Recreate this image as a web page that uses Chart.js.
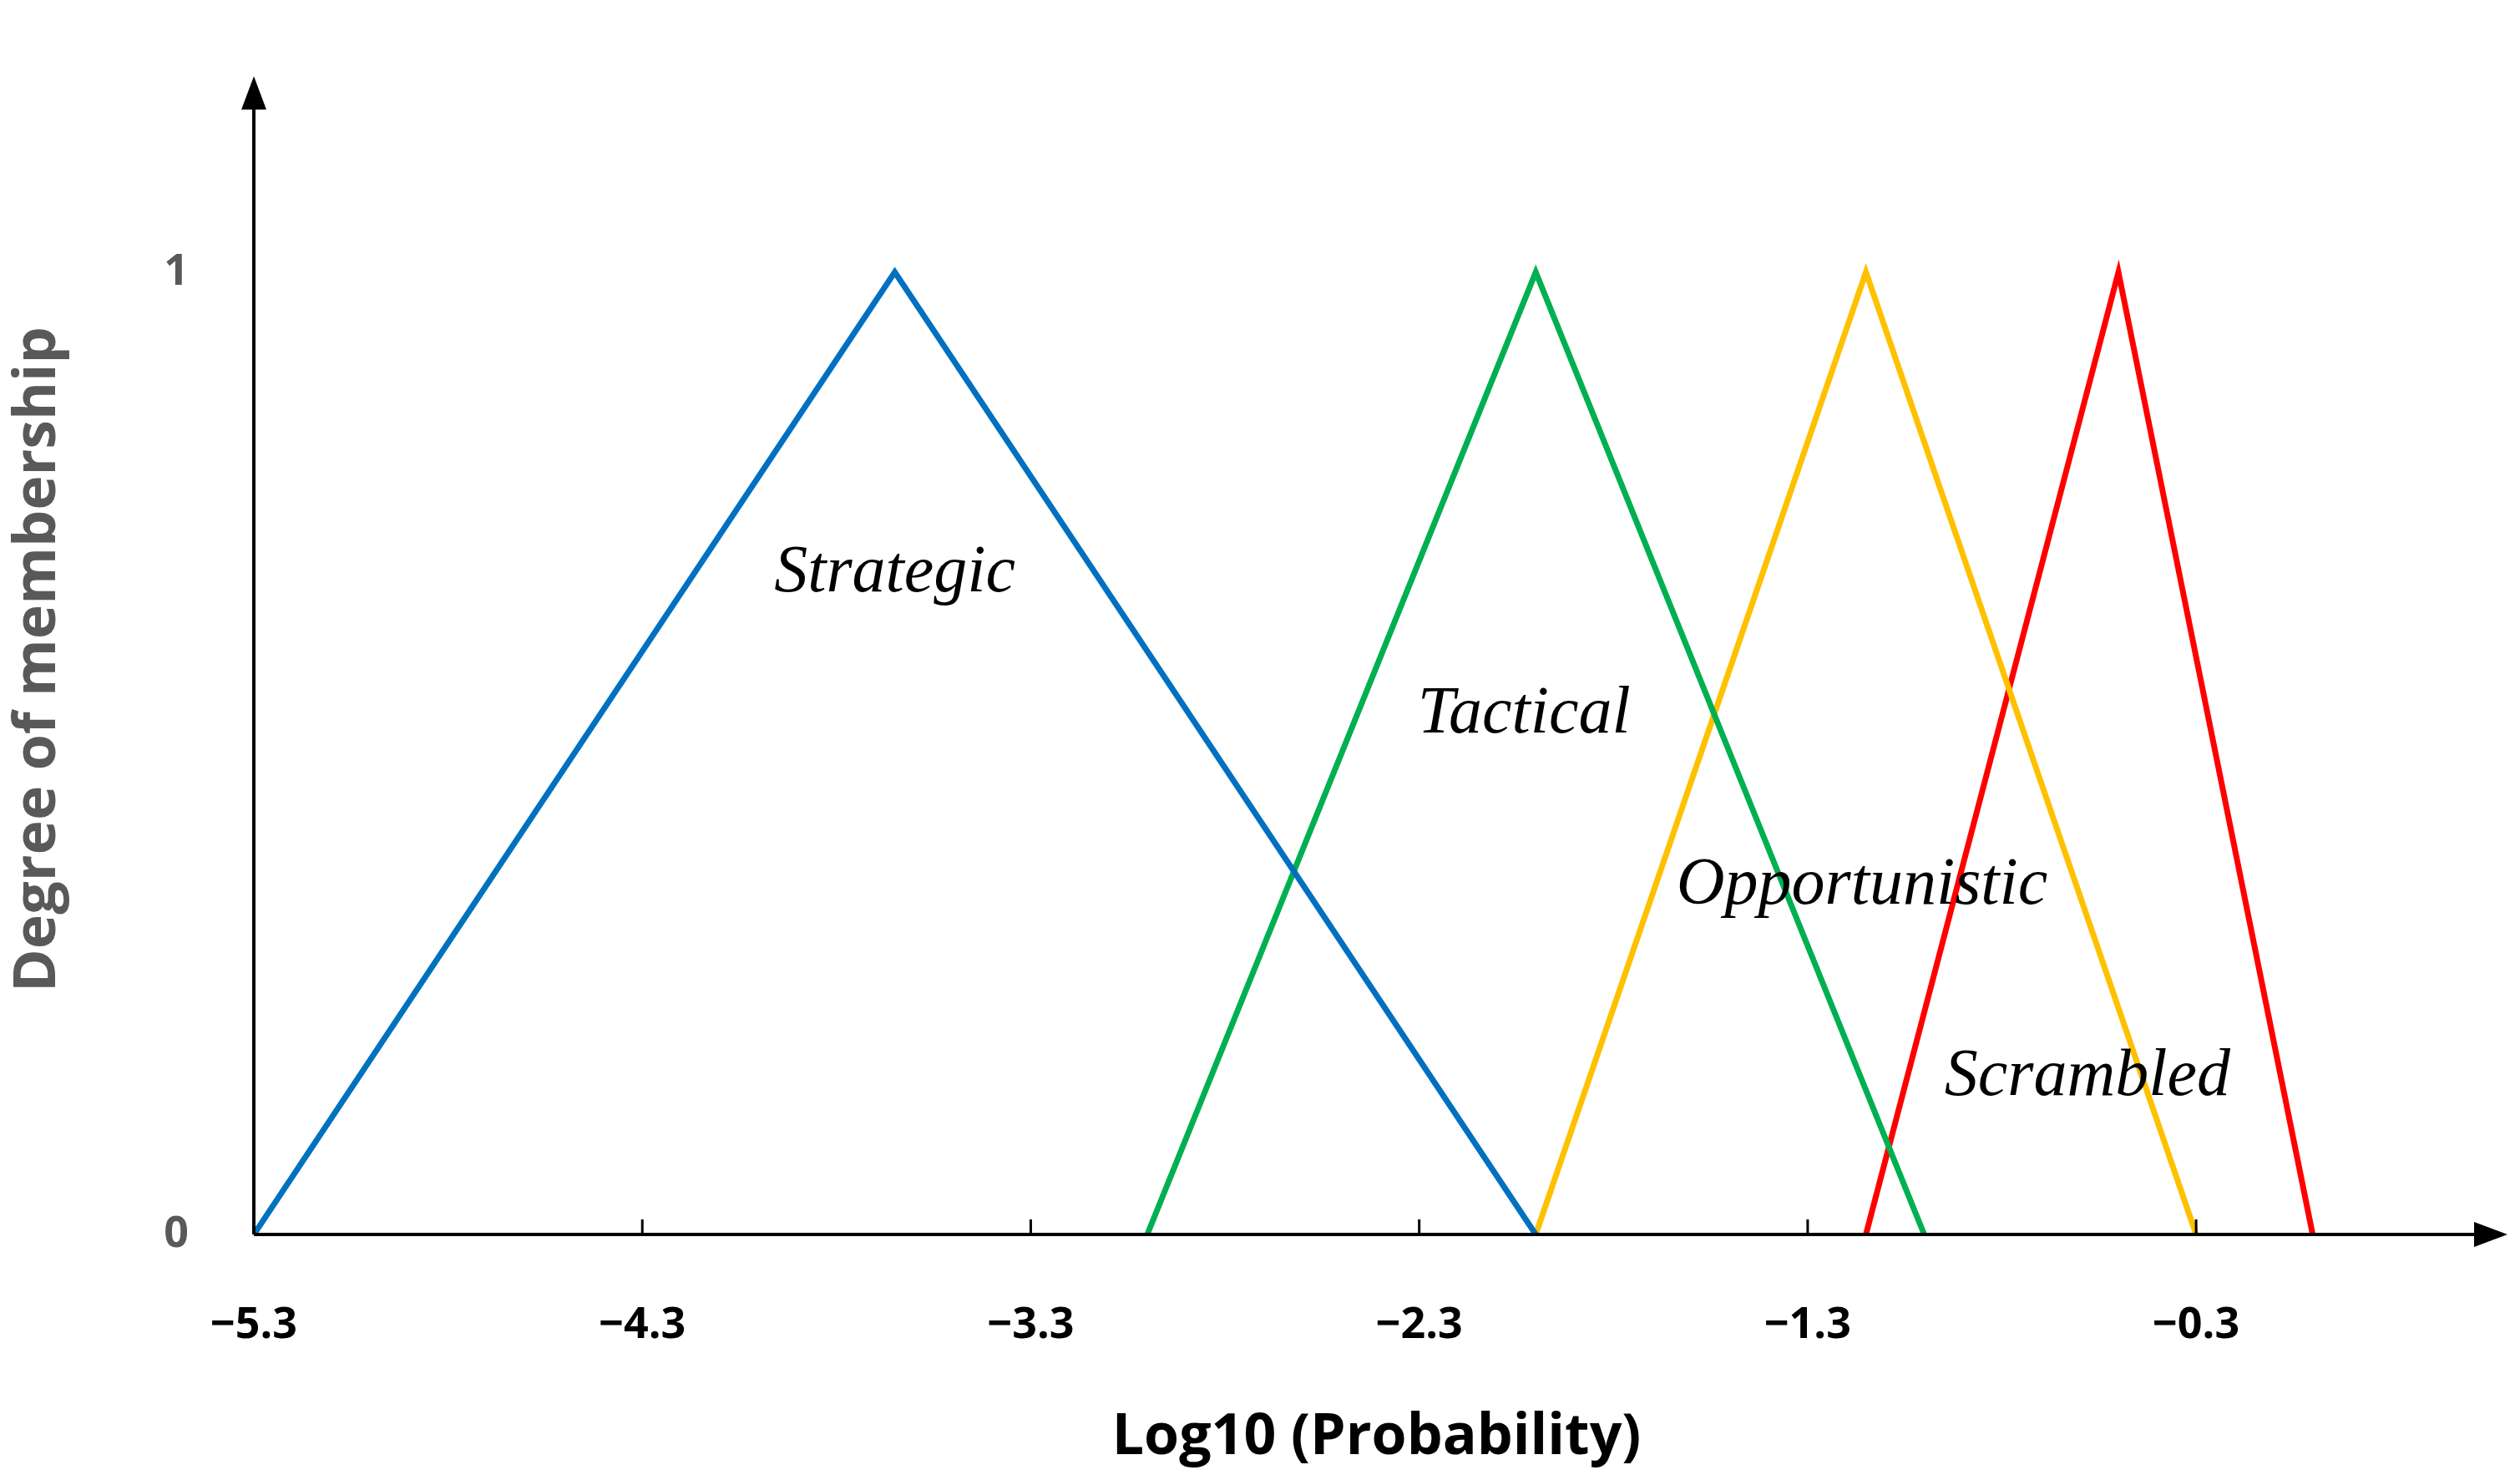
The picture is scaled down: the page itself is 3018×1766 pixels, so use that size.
<!DOCTYPE html>
<html>
<head>
<meta charset="utf-8">
<script src="https://cdn.jsdelivr.net/npm/chart.js@4"></script>
<style>
  html, body { margin: 0; padding: 0; background: #fff; }
  #wrap { width: 3018px; height: 1766px; }
</style>
</head>
<body>
<div id="wrap"><canvas id="fuzzyChart"></canvas></div>
<script>
// ===== DATA =====
const setNames = ["Strategic", "Tactical", "Opportunistic", "Scrambled"];
const setColors = ["#0070C0", "#00B050", "#FFC000", "#FF0000"];
const strategicX = [-5.3, -3.65, -2.0];
const tacticalX = [-3.0, -2.0, -1.0];
const opportunisticX = [-2.0, -1.15, -0.3];
const scrambledX = [-1.15, -0.5, 0.0];
const membershipY = [0, 1, 0];
const xTicks = [-5.3, -4.3, -3.3, -2.3, -1.3, -0.3];
const yTicks = [0, 1];
// label anchor points (x, y) in data units
const labelX = [-3.65, -2.03, -1.16, -0.58];
const labelY = [0.687, 0.54, 0.362, 0.163];

const allX = [strategicX, tacticalX, opportunisticX, scrambledX];

const datasets = setNames.map((name, i) => ({
    label: name,
    data: allX[i].map((x, j) => ({ x: x, y: membershipY[j] })),
    borderColor: setColors[i],
    borderWidth: 7,
    showLine: true,
    pointRadius: 0,
    tension: 0
}));

// ===== AXES WITH ARROWS + SET LABELS =====
const axesPlugin = {
    id: "axesArrows",
    afterDatasetsDraw(chart) {
        const c = chart.ctx;
        const xs = chart.scales.x, ys = chart.scales.y;
        const x0 = xs.getPixelForValue(-5.3), y0 = ys.getPixelForValue(0);
        const right = chart.chartArea.right, top = chart.chartArea.top;
        c.save();
        c.strokeStyle = "#000";
        c.fillStyle = "#000";
        c.lineWidth = 4;
        c.beginPath();
        c.moveTo(x0, y0); c.lineTo(right - 20, y0);
        c.moveTo(x0, y0); c.lineTo(x0, top + 20);
        c.stroke();
        // arrow heads
        c.beginPath();
        c.moveTo(right + 10, y0); c.lineTo(right - 30, y0 - 15); c.lineTo(right - 30, y0 + 15);
        c.closePath(); c.fill();
        c.beginPath();
        c.moveTo(x0, top - 10); c.lineTo(x0 - 15, top + 30); c.lineTo(x0 + 15, top + 30);
        c.closePath(); c.fill();
        // tick marks (upward)
        c.lineWidth = 3;
        xTicks.forEach(v => {
            const px = xs.getPixelForValue(v);
            c.beginPath(); c.moveTo(px, y0); c.lineTo(px, y0 - 18); c.stroke();
        });
        // set labels
        c.font = "italic 80px 'Liberation Serif', 'Times New Roman', serif";
        c.textAlign = "center";
        c.textBaseline = "middle";
        setNames.forEach((name, i) => {
            c.fillText(name, xs.getPixelForValue(labelX[i]), ys.getPixelForValue(labelY[i]));
        });
        c.restore();
    }
};

new Chart(document.getElementById("fuzzyChart"), {
    type: "scatter",
    data: { datasets: datasets },
    options: {
        responsive: true,
        maintainAspectRatio: false,
        animation: false,
        layout: { padding: { top: -40, right: 25 } },
        plugins: { legend: { display: false }, tooltip: { enabled: false } },
        scales: {
            x: {
                type: "linear",
                min: -5.3,
                max: 0.48,
                afterBuildTicks: s => { s.ticks = xTicks.map(v => ({ value: v })); },
                afterFit: s => { s.height = 288; },
                grid: { display: false },
                border: { display: false },
                ticks: {
                    color: "#000",
                    padding: 70,
                    font: { family: "'Open Sans', 'DejaVu Sans', sans-serif", size: 52, weight: "bold" },
                    callback: v => "\u2212" + Math.abs(v).toFixed(1)
                },
                title: {
                    display: true,
                    text: "Log10 (Probability)",
                    color: "#000",
                    padding: { top: 30 },
                    font: { family: "'Open Sans', 'DejaVu Sans', sans-serif", size: 68, weight: "bold" }
                }
            },
            y: {
                min: 0,
                max: 1.195,
                afterBuildTicks: s => { s.ticks = yTicks.map(v => ({ value: v })); },
                afterFit: s => { s.width = 304; },
                grid: { display: false },
                border: { display: false },
                ticks: {
                    color: "#595959",
                    padding: 70,
                    font: { family: "'Open Sans', 'DejaVu Sans', sans-serif", size: 52, weight: "bold" }
                },
                title: {
                    display: true,
                    text: "Degree of membership",
                    color: "#595959",
                    padding: { bottom: 0 },
                    font: { family: "'Open Sans', 'DejaVu Sans', sans-serif", size: 70, weight: "bold" }
                }
            }
        }
    },
    plugins: [axesPlugin]
});
</script>
</body>
</html>
